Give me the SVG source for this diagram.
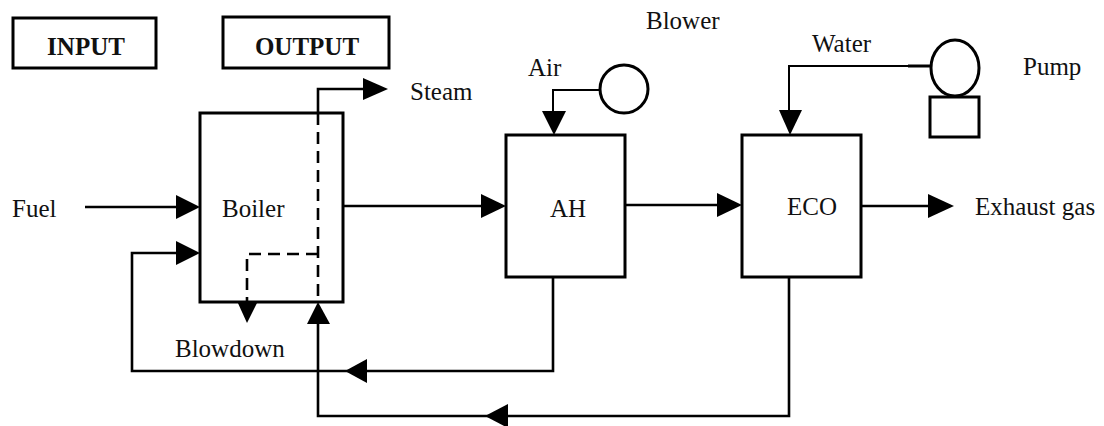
<svg xmlns="http://www.w3.org/2000/svg" width="1104" height="426" viewBox="0 0 1104 426">
<defs>
<style>
.box{fill:#fff;stroke:#000;stroke-width:3}
.ln{fill:none;stroke:#000;stroke-width:2.6}
.dash{fill:none;stroke:#000;stroke-width:2.6;stroke-dasharray:12 7}
.ah{fill:#000;stroke:none}
.t{font-family:'Liberation Serif','DejaVu Serif',serif;font-size:25px;fill:#111}
.b{font-weight:bold}
</style>
</defs>
<rect width="1104" height="426" fill="#fff"/>
<g id="input"><rect class="box" x="13" y="18" width="143" height="50"/><text class="t b" x="86" y="55" text-anchor="middle">INPUT</text></g>
<g id="output"><rect class="box" x="223" y="17" width="166" height="51"/><text class="t b" x="307" y="55" text-anchor="middle">OUTPUT</text></g>
<g id="boiler"><rect class="box" x="200" y="113" width="143" height="189"/><text class="t" x="222" y="217">Boiler</text></g>
<g id="ah"><rect class="box" x="506" y="135" width="119" height="142"/><text class="t" x="568" y="217" text-anchor="middle">AH</text></g>
<g id="eco"><rect class="box" x="742" y="135" width="119" height="142"/><text class="t" x="812" y="215" text-anchor="middle">ECO</text></g>
<g id="blower"><circle cx="624" cy="89" r="24" fill="#fff" stroke="#000" stroke-width="3"/><text class="t" x="646" y="29">Blower</text></g>
<g id="pump"><ellipse cx="955" cy="68" rx="24" ry="28" fill="#fff" stroke="#000" stroke-width="3"/><rect class="box" x="930" y="97" width="49" height="40"/><text class="t" x="1023" y="75">Pump</text></g>
<g id="labels">
<text class="t" x="12" y="217">Fuel</text>
<text class="t" x="410" y="100">Steam</text>
<text class="t" x="528" y="76">Air</text>
<text class="t" x="812" y="52">Water</text>
<text class="t" x="975" y="215">Exhaust gas</text>
<text class="t" x="175" y="357">Blowdown</text>
</g>
<g id="connectors">
<polyline class="ln" points="318,113 318,89 365,89"/>
<polygon class="ah" points="363,78 388,89 363,100"/>
<line class="dash" x1="318" y1="113" x2="318" y2="302"/>
<polyline class="dash" points="318,254 247,254 247,301"/>
<polygon class="ah" points="237,301 258,301 247,323"/>
<line class="ln" x1="85" y1="207" x2="180" y2="207"/>
<polygon class="ah" points="176,195 200,207 176,219"/>
<polyline class="ln" points="553,277 553,371 132,371 132,253 180,253"/>
<polygon class="ah" points="176,241 200,253 176,265"/>
<polygon class="ah" points="367,359 345,371 367,383"/>
<polyline class="ln" points="789,277 789,416 318,416 318,322"/>
<polygon class="ah" points="307,324 318,302 330,324"/>
<polygon class="ah" points="508,404 485,416 508,428"/>
<line class="ln" x1="343" y1="206" x2="485" y2="206"/>
<polygon class="ah" points="481,194 506,206 481,218"/>
<line class="ln" x1="625" y1="205" x2="720" y2="205"/>
<polygon class="ah" points="717,193 742,205 717,217"/>
<line class="ln" x1="861" y1="206" x2="930" y2="206"/>
<polygon class="ah" points="928,194 954,206 928,218"/>
<polyline class="ln" points="600,90 553,90 553,115" style="stroke-width:2"/>
<polygon class="ah" points="542,111 566,111 554,135"/>
<polyline class="ln" points="931,66 789,66 789,112" style="stroke-width:2"/>
<line class="ln" x1="908" y1="66" x2="931" y2="66" style="stroke-width:3"/>
<polygon class="ah" points="779,110 802,110 790,135"/>
</g>
</svg>
